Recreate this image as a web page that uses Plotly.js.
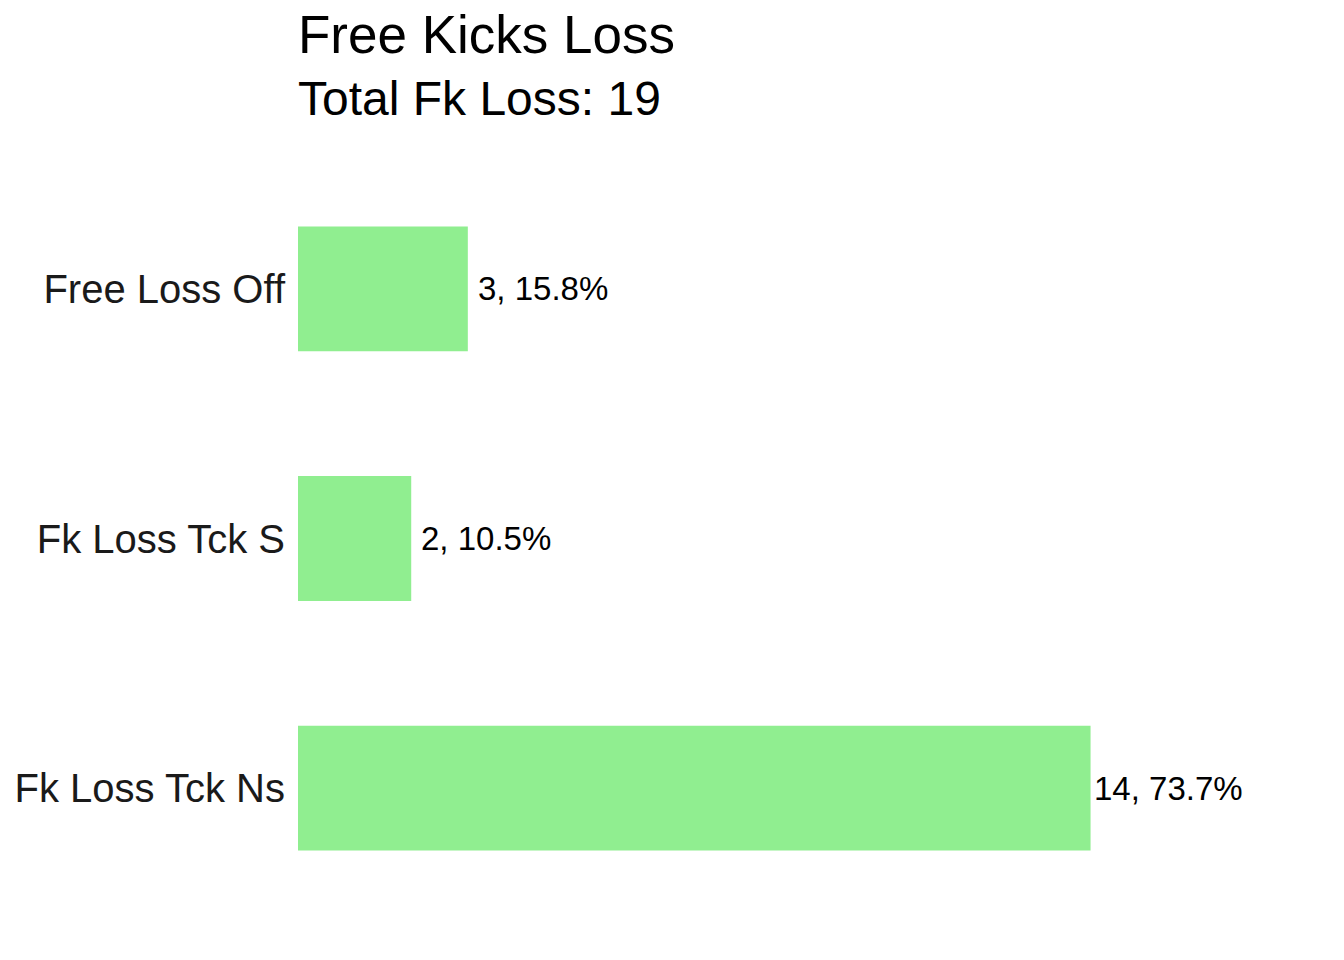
<!DOCTYPE html>
<html>
<head>
<meta charset="utf-8">
<script src="https://cdn.plot.ly/plotly-3.0.1.min.js"></script>
<style>html,body{margin:0;padding:0;background:#fff;}#chart{width:1344px;height:960px;}</style>
</head>
<body>
<div id="chart"></div>
<script>
// Data
const categories = ["Free Loss Off", "Fk Loss Tck S", "Fk Loss Tck Ns"];
const counts = [3, 2, 14];
const percents = [15.8, 10.5, 73.7];
const totalLoss = 19;
const titleText = "Free Kicks Loss";
const subtitleText = "Total Fk Loss: " + totalLoss;

// Styling (label pixel offsets from bar ends)
const labelShift = [8, 8, 1];

const labels = counts.map((c, i) => c + ", " + percents[i] + "%");

const trace = {
  type: "bar",
  orientation: "h",
  x: counts,
  y: categories,
  marker: {color: "#90EE90"},
  hoverinfo: "none"
};

const annotations = categories.map((cat, i) => ({
  x: counts[i], y: cat, xref: "x", yref: "y",
  text: labels[i], showarrow: false,
  xanchor: "left", yanchor: "middle", xshift: labelShift[i],
  font: {family: "Liberation Sans, Arial, sans-serif", size: 33, color: "#000000"}
}));

const layout = {
  width: 1344, height: 960,
  margin: {l: 298, r: 27, t: 139, b: 22},
  paper_bgcolor: "#ffffff", plot_bgcolor: "#ffffff",
  showlegend: false,
  bargap: 0.5,
  title: {
    text: "<span style='font-size:53px'>" + titleText + "</span><br>" + subtitleText,
    x: 0, xref: "paper", xanchor: "left",
    y: 0.945, yref: "container", yanchor: "top",
    font: {family: "Liberation Sans, Arial, sans-serif", size: 48, color: "#000000"}
  },
  xaxis: {
    range: [0, 18], showgrid: false, zeroline: false, showticklabels: false,
    showline: false, ticks: ""
  },
  yaxis: {
    type: "category", range: [2.6, -0.6], showgrid: false, zeroline: false,
    showline: false, ticks: "", ticklabelstandoff: 12,
    tickfont: {family: "Liberation Sans, Arial, sans-serif", size: 40, color: "#1A1A1A"}
  },
  annotations: annotations
};

Plotly.newPlot("chart", [trace], layout, {staticPlot: true, displayModeBar: false});
</script>
</body>
</html>
